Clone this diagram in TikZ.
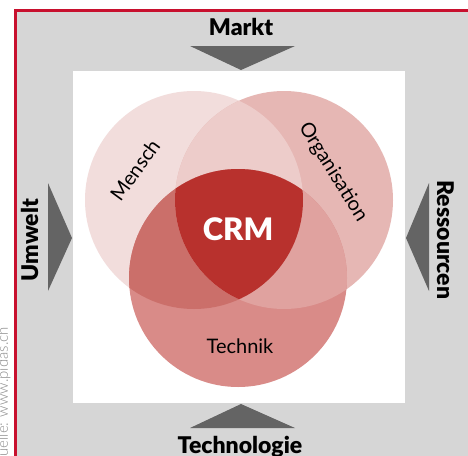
\documentclass[tikz,border=0pt]{standalone}
\usepackage{fontspec}
\setmainfont{Lato}
\IfFontExistsTF{Lato Black}{\newfontfamily\heavyfont{Lato Black}}{%
  \IfFontExistsTF{Lato Heavy}{\newfontfamily\heavyfont{Lato Heavy}}{%
    \newfontfamily\heavyfont{Lato}[UprightFont=*-Bold, UprightFeatures={FakeBold=1.2}]}}
\IfFontExistsTF{Lato Light}{\newfontfamily\lightfont{Lato Light}}{\newfontfamily\lightfont{Lato}}
\definecolor{framegray}{HTML}{D6D6D6}
\definecolor{framered}{HTML}{C8102E}
\definecolor{arrowgray}{HTML}{646464}
\definecolor{cmensch}{HTML}{F2DDDC}
\definecolor{corg}{HTML}{E6B7B4}
\definecolor{ctech}{HTML}{D98B88}
\definecolor{cmo}{HTML}{EDCCCA}
\definecolor{cmt}{HTML}{CB6F6A}
\definecolor{cot}{HTML}{E0A29F}
\definecolor{ccrm}{HTML}{B8312D}
\definecolor{srcgray}{HTML}{8A8A8A}
\tikzset{
  forcelabel/.style={font=\heavyfont\fontsize{23}{26}\selectfont, text=black, inner sep=0pt},
  setlabel/.style={font=\fontsize{20}{23}\selectfont, text=black, inner sep=0pt},
  pointer/.style={fill=arrowgray},
}
\begin{document}
\begin{tikzpicture}[x=1pt,y=-1pt]
\useasboundingbox (0,0) rectangle (468,455);
\begin{scope}
  \clip (0,0) rectangle (468,455);
  % grey field inside the red frame
  \fill[framegray] (15.3,10.8) rectangle (490,480);
  \draw[framered, line width=2.7pt] (15.3,480) -- (15.3,10.8) -- (490,10.8);
  % white panel
  \fill[white] (73,71) rectangle (405,403);

  % force arrows
  \fill[pointer] (190,46) -- (295,46) -- (241,70) -- cycle;
  \fill[pointer] (190,428) -- (295,428) -- (241,404) -- cycle;
  \fill[pointer] (48,183) -- (48,291) -- (72,238) -- cycle;
  \fill[pointer] (429,183) -- (429,291) -- (406,238) -- cycle;

  % labels of the forces
  \node[forcelabel, anchor=base] (markt) at (241,35) {Markt};
  \node[forcelabel, anchor=base] (technologie) at (240,453) {Technologie};
  \node[forcelabel, rotate=90, anchor=base] (umwelt) at (38,240) {Umwelt};
  \node[forcelabel, rotate=-90, anchor=base] (ressourcen) at (437,240) {Ressourcen};

  % source note
  \node[font=\lightfont\fontsize{15}{17}\selectfont, text=srcgray, rotate=90, anchor=base east, inner sep=0pt] (source) at (8,327) {Quelle: www.pidas.ch};

  % three sets
  \def\cMensch{(194,200) circle [radius=109pt]}
  \def\cOrg{(284,200) circle [radius=109pt]}
  \def\cTech{(238,278) circle [radius=109pt]}
  \fill[cmensch] \cMensch;
  \fill[corg] \cOrg;
  \fill[ctech] \cTech;
  \begin{scope}
    \clip \cMensch;
    \fill[cmo] \cOrg;
    \fill[cmt] \cTech;
  \end{scope}
  \begin{scope}
    \clip \cOrg;
    \fill[cot] \cTech;
    \clip \cTech;
    \fill[ccrm] \cMensch;
  \end{scope}

  \node[setlabel, rotate=54] (mensch) at (135,170) {Mensch};
  \node[setlabel, rotate=-58] (organisation) at (333,172) {Organisation};
  \node[setlabel] (technik) at (240,346) {Technik};
  \node[font=\heavyfont\fontsize{31}{35}\selectfont, text=white, inner sep=0pt] (crm) at (238,229) {CRM};
\end{scope}
\end{tikzpicture}
\end{document}
